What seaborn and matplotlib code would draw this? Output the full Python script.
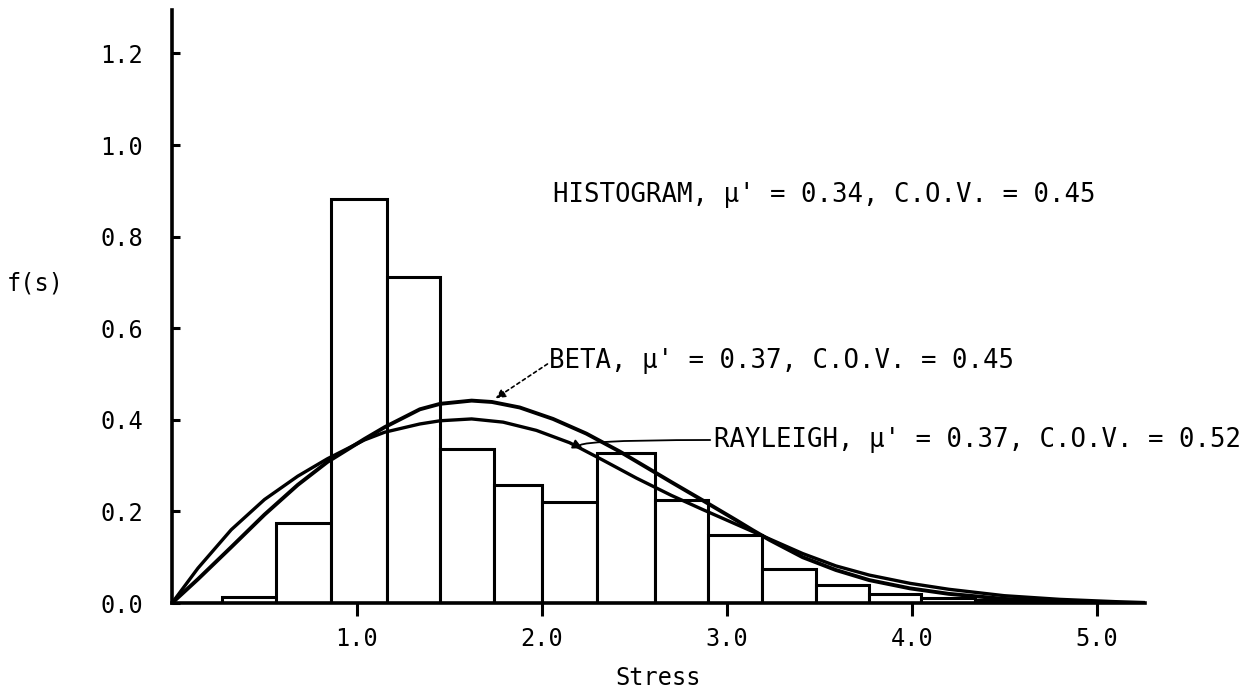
import numpy as np
import matplotlib
matplotlib.use("Agg")
import matplotlib.pyplot as plt
import seaborn as sns

# ---- data ----
bin_edges = [0.27, 0.56, 0.86, 1.16, 1.45, 1.74, 2.00, 2.30, 2.61, 2.90,
             3.19, 3.48, 3.77, 4.05, 4.34, 4.63, 4.92]
hist_heights = [0.013, 0.175, 0.882, 0.712, 0.336, 0.258, 0.220, 0.327,
                0.225, 0.148, 0.074, 0.039, 0.020, 0.012, 0.006, 0.004]

rayleigh_x = [0.0, 0.14, 0.32, 0.50, 0.68, 0.84, 1.04, 1.15, 1.34, 1.45, 1.62,
              1.79, 1.97, 2.15, 2.33, 2.51, 2.70, 2.87, 3.05, 3.14, 3.23, 3.41,
              3.59, 3.77, 3.99, 4.20, 4.50, 4.80, 5.10, 5.26]
rayleigh_y = [0.0, 0.076, 0.160, 0.226, 0.277, 0.315, 0.356, 0.373, 0.391, 0.398,
              0.402, 0.395, 0.377, 0.350, 0.312, 0.273, 0.235, 0.204, 0.172, 0.156,
              0.140, 0.108, 0.081, 0.061, 0.043, 0.030, 0.016, 0.008, 0.003, 0.001]

beta_x = [0.0, 0.14, 0.32, 0.50, 0.68, 0.84, 1.04, 1.15, 1.34, 1.45, 1.62, 1.73,
          1.88, 2.06, 2.24, 2.42, 2.60, 2.70, 2.87, 3.05, 3.14, 3.23, 3.41, 3.59,
          3.77, 3.99, 4.20, 4.50, 4.80, 5.00]
beta_y = [0.0, 0.052, 0.122, 0.193, 0.258, 0.308, 0.358, 0.384, 0.423, 0.435,
          0.442, 0.439, 0.427, 0.402, 0.370, 0.331, 0.288, 0.264, 0.224, 0.181,
          0.159, 0.138, 0.100, 0.072, 0.050, 0.032, 0.020, 0.009, 0.003, 0.000]

x_ticks = [1.0, 2.0, 3.0, 4.0, 5.0]
x_tick_labels = ["1.0", "2.0", "3.0", "4.0", "5.0"]
y_ticks = [0.0, 0.2, 0.4, 0.6, 0.8, 1.0, 1.2]
y_tick_labels = ["0.0", "0.2", "0.4", "0.6", "0.8", "1.0", "1.2"]

hist_label = "HISTOGRAM, \u03bc' = 0.34, C.O.V. = 0.45"
beta_label = "BETA, \u03bc' = 0.37, C.O.V. = 0.45"
rayleigh_label = "RAYLEIGH, \u03bc' = 0.37, C.O.V. = 0.52"

# ---- styling ----
sns.set_theme(style="white")
plt.rcParams["font.family"] = ["DejaVu Sans Mono", "DejaVu Sans"]
plt.rcParams["text.color"] = "black"
plt.rcParams["axes.labelcolor"] = "black"
plt.rcParams["xtick.color"] = "black"
plt.rcParams["ytick.color"] = "black"

fig = plt.figure(figsize=(12.52, 6.94), dpi=100)
ax = fig.add_axes([0.1374, 0.1311, 0.777, 0.8545])

edges = np.asarray(bin_edges)
centers = (edges[:-1] + edges[1:]) / 2
sns.histplot(x=centers, weights=hist_heights, bins=bin_edges, stat="count",
             color="white", edgecolor="black", linewidth=2.2, alpha=1.0, ax=ax)

sns.lineplot(x=rayleigh_x, y=rayleigh_y, color="black", linewidth=2.4,
             sort=False, ax=ax)
sns.lineplot(x=beta_x, y=beta_y, color="black", linewidth=2.8,
             sort=False, ax=ax)

ax.set_xlim(0, 5.26)
ax.set_ylim(0, 1.295)

for side in ["top", "right"]:
    ax.spines[side].set_visible(False)
for side in ["left", "bottom"]:
    ax.spines[side].set_linewidth(2.6)
    ax.spines[side].set_color("black")

ax.set_xticks(x_ticks)
ax.set_xticklabels(x_tick_labels)
ax.set_yticks(y_ticks)
ax.set_yticklabels(y_tick_labels)
ax.tick_params(axis="x", direction="out", length=9, width=2.2, pad=8,
               labelsize=17, bottom=True)
ax.tick_params(axis="y", direction="in", length=6, width=2.2, pad=21,
               labelsize=17, left=True)

ax.set_xlabel("Stress", fontsize=17, labelpad=11)
ax.set_ylabel("")
fig.text(0.005, 0.592, "f(s)", fontsize=17, ha="left", va="center")

ax.text(2.06, 0.89, hist_label, fontsize=18.5, ha="left", va="center")
ax.text(2.04, 0.528, beta_label, fontsize=18.5, ha="left", va="center")
ax.text(2.93, 0.356, rayleigh_label, fontsize=18.5, ha="left", va="center")

ax.annotate("", xy=(1.75, 0.447), xytext=(2.03, 0.522),
            arrowprops=dict(arrowstyle="-|>", linestyle=(0, (2, 2)),
                            color="black", linewidth=1.2,
                            mutation_scale=14, shrinkA=0, shrinkB=0))
ax.annotate("", xy=(2.22, 0.338), xytext=(2.91, 0.356),
            arrowprops=dict(arrowstyle="-|>", color="black", linewidth=1.3,
                            mutation_scale=14, shrinkA=0, shrinkB=0,
                            connectionstyle="angle3,angleA=0,angleB=-25"))

fig.savefig("out.png", dpi=100, facecolor="white")
